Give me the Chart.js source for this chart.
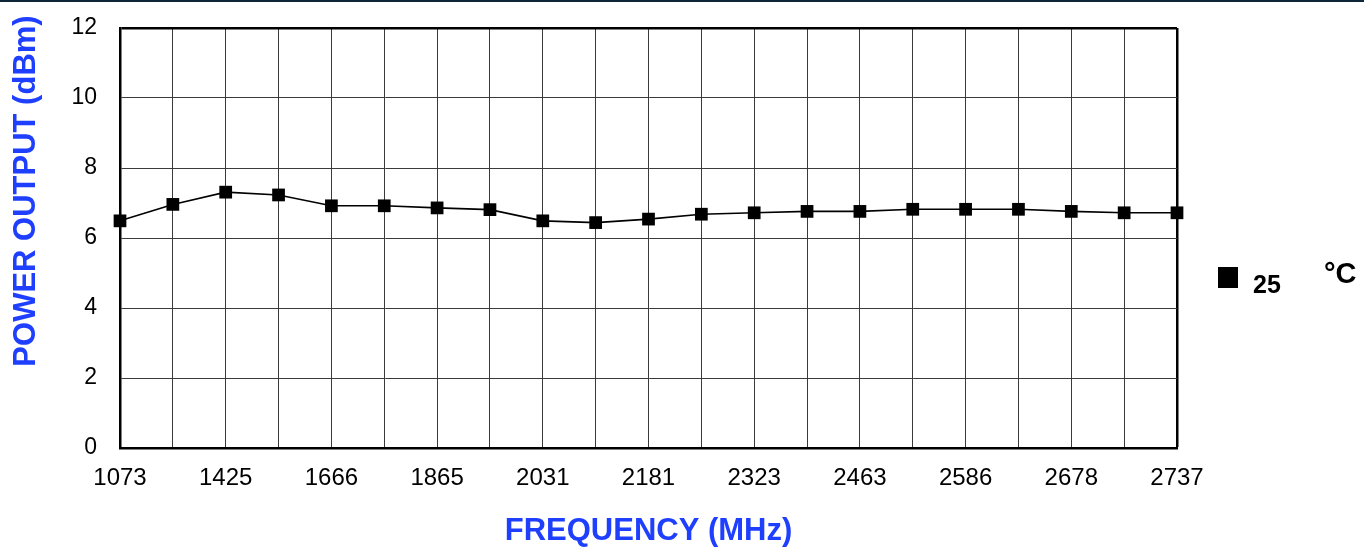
<!DOCTYPE html>
<html>
<head>
<meta charset="utf-8">
<script src="https://cdn.jsdelivr.net/npm/chart.js@4"></script>
<style>
  html, body { margin: 0; padding: 0; background: #fff; }
  #wrap { position: relative; width: 1364px; height: 548px; overflow: hidden; }
  #topline { position: absolute; left: 0; top: 0; width: 1364px; height: 2px; background: #0f2638; }
  #legend { position: absolute; left: 1218px; top: 258px; font-family: "Liberation Sans", Arial, sans-serif; font-weight: bold; color: #000; }
  #legend .sw { position: absolute; left: 0; top: 9px; width: 20px; height: 21px; background: #000; }
  #legend .num { position: absolute; left: 35px; top: 11px; font-size: 25px; line-height: 30px; }
  #legend .unit { position: absolute; left: 106px; top: 0px; font-size: 29px; line-height: 30px; }
</style>
</head>
<body>
<div id="wrap">
  <canvas id="c" width="1364" height="548"></canvas>
  <div id="topline"></div>
  <div id="legend"><span class="sw"></span><span class="num"></span><span class="unit"></span></div>
</div>
<script>
// ---- data ----
const frequencyLabels = ['1073', '', '1425', '', '1666', '', '1865', '', '2031', '', '2181', '', '2323', '', '2463', '', '2586', '', '2678', '', '2737'];
const powerOutput25C = [6.49, 6.96, 7.31, 7.23, 6.92, 6.92, 6.86, 6.81, 6.49, 6.44, 6.54, 6.68, 6.72, 6.76, 6.76, 6.82, 6.82, 6.82, 6.76, 6.72, 6.72];
const seriesName = '25';
const seriesUnit = '°C';
const yTicks = [0, 2, 4, 6, 8, 10, 12];
const xTitle = 'FREQUENCY (MHz)';
const yTitle = 'POWER OUTPUT (dBm)';

document.querySelector('#legend .num').textContent = seriesName;
document.querySelector('#legend .unit').textContent = seriesUnit;

const BLUE = '#1f3fff';
const FONT = '"Liberation Sans", Arial, sans-serif';

const yTitlePlugin = {
  id: 'yTitle',
  afterDraw(chart) {
    const ctx = chart.ctx;
    ctx.save();
    ctx.translate(26, 191);
    ctx.rotate(-Math.PI / 2);
    ctx.font = 'bold 31px ' + FONT;
    ctx.fillStyle = BLUE;
    ctx.textAlign = 'center';
    ctx.textBaseline = 'middle';
    ctx.fillText(yTitle, 0, 0);
    ctx.restore();
  }
};

const lastX = frequencyLabels.length - 1;
const yMax = yTicks[yTicks.length - 1];

new Chart(document.getElementById('c'), {
  type: 'line',
  data: {
    labels: frequencyLabels,
    datasets: [{
      label: seriesName + ' ' + seriesUnit,
      data: powerOutput25C,
      borderColor: '#000',
      borderWidth: 1.6,
      backgroundColor: '#000',
      pointStyle: 'rect',
      pointRadius: 9,
      pointBorderWidth: 0,
      pointBackgroundColor: '#000',
      tension: 0,
      fill: false
    }]
  },
  options: {
    responsive: false,
    animation: false,
    layout: { padding: { top: 28, right: 187, left: 0, bottom: 0 } },
    plugins: { legend: { display: false }, tooltip: { enabled: false } },
    scales: {
      x: {
        type: 'category',
        offset: false,
        afterFit: (s) => { s.height = 100; },
        grid: {
          drawTicks: false,
          color: (c) => (c.index === lastX ? '#000' : '#3a3a3a'),
          lineWidth: (c) => (c.index === lastX ? 2.5 : 1)
        },
        border: { color: '#000', width: 2.5 },
        ticks: {
          autoSkip: false,
          maxRotation: 0,
          minRotation: 0,
          padding: 16,
          color: '#000',
          font: { family: FONT, size: 24 },
          callback: (v, i) => frequencyLabels[i]
        },
        title: {
          display: true,
          text: xTitle,
          color: BLUE,
          font: { family: FONT, size: 31, weight: 'bold' },
          padding: { top: 0, bottom: -2 }
        }
      },
      y: {
        min: yTicks[0],
        max: yMax,
        afterFit: (s) => { s.width = 120; s.paddingTop = 0; s.paddingBottom = 0; },
        afterBuildTicks: (s) => { s.ticks = yTicks.map(v => ({ value: v })); },
        grid: {
          drawTicks: false,
          color: (c) => (c.tick && c.tick.value === yMax ? '#000' : '#3a3a3a'),
          lineWidth: (c) => (c.tick && c.tick.value === yMax ? 2.5 : 1)
        },
        border: { color: '#000', width: 2.5 },
        ticks: {
          padding: 23,
          color: '#000',
          font: { family: FONT, size: 23 }
        }
      }
    }
  },
  plugins: [yTitlePlugin]
});
</script>
</body>
</html>
